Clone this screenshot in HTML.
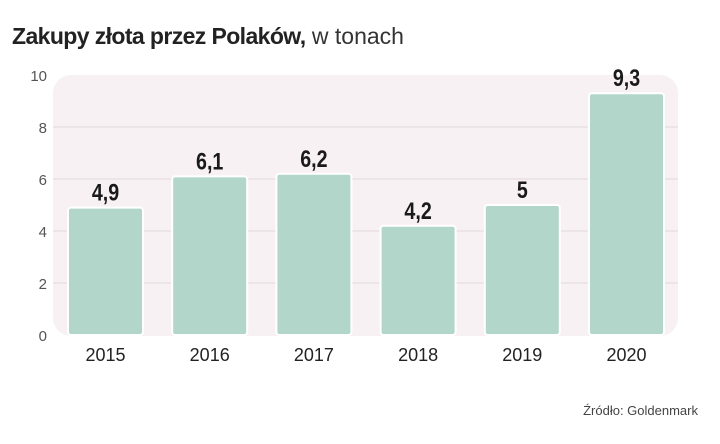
<!DOCTYPE html>
<html><head><meta charset="utf-8"><style>
body{margin:0;background:#fff;width:720px;height:439px;overflow:hidden;font-family:"Liberation Sans",sans-serif}
</style></head><body>
<svg width="720" height="439">
<text x="12" y="44" font-size="23" fill="#222"><tspan font-weight="bold" letter-spacing="-0.6">Zakupy złota przez Polaków,</tspan><tspan font-weight="normal" fill="#333"> w tonach</tspan></text>
<rect x="53" y="75" width="625" height="261" rx="18" fill="#f8f1f3"/>
<g id="grid"></g>
<g id="bars"></g>
<text x="698" y="415" font-size="13" fill="#444" text-anchor="end">Źródło: Goldenmark</text>
</svg>
<script>
const categories=["2015","2016","2017","2018","2019","2020"];
const values=[4.9,6.1,6.2,4.2,5,9.3];
const valueLabels=["4,9","6,1","6,2","4,2","5","9,3"];
const yTicks=[0,2,4,6,8,10];
const NS="http://www.w3.org/2000/svg";
const y=v=>335-v*26;
const x=i=>105.5+i*104.2;
const grid=document.getElementById('grid'),bars=document.getElementById('bars');
function mk(tag,attrs,parent,text){const e=document.createElementNS(NS,tag);for(const k in attrs)e.setAttribute(k,attrs[k]);if(text!==undefined)e.textContent=text;parent.appendChild(e);return e;}
yTicks.forEach(t=>{
  if(t>0&&t<10){const l=mk('line',{x1:53,x2:678,y1:y(t),y2:y(t),stroke:'#e2d8dc','stroke-width':1},grid);
  
  }
  const tx=mk('text',{x:47,y:y(t)+6,'font-size':15,fill:'#555','text-anchor':'end'},grid,String(t));
  
  
});
categories.forEach((c,i)=>{
  const r=mk('rect',{x:x(i)-37.5,y:y(values[i]),width:75,height:335-y(values[i]),rx:3,fill:'#b2d6c9',stroke:'#fff','stroke-width':2},bars);
  
  
  const v=mk('text',{x:x(i),y:y(values[i])-7,'font-size':24,'font-weight':'bold',fill:'#1a1a1a','text-anchor':'middle',transform:`translate(${x(i)},0) scale(0.82,1) translate(${-x(i)},0)`},bars,valueLabels[i]);
  
  
  const l=mk('text',{x:x(i),y:361,'font-size':18,fill:'#222','text-anchor':'middle'},bars,c);
  
  
});
</script>
</body></html>
